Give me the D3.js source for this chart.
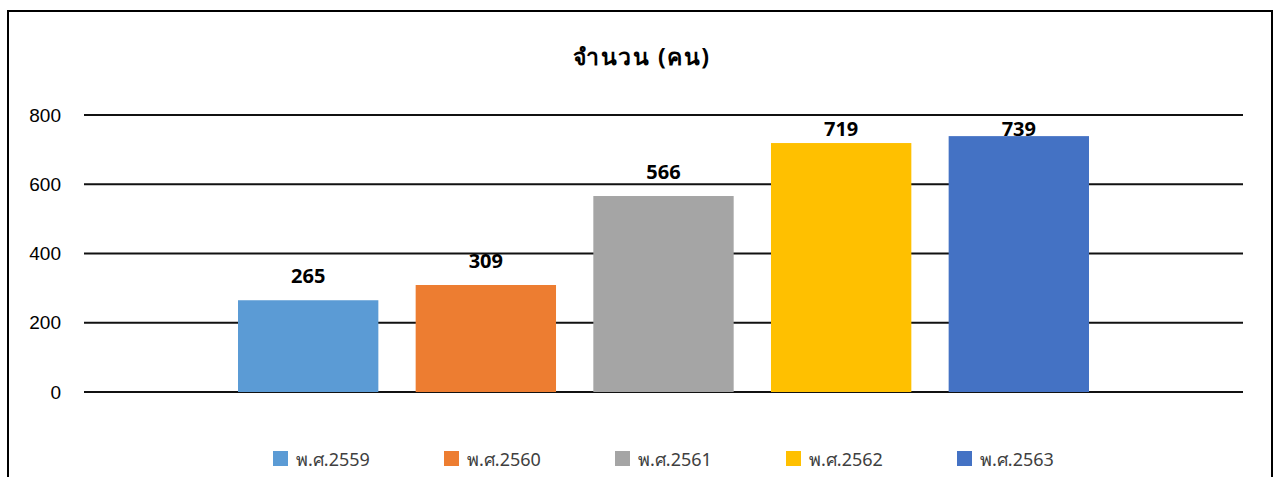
<!DOCTYPE html>
<html>
  <head>
    <meta charset="utf-8" />
    <title>จำนวน (คน)</title>
    <script src="https://d3js.org/d3.v7.min.js"></script>
    <style>
      body {
        margin: 0;
        background: #fff;
      }
      svg {
        font-family: "Noto Sans", sans-serif;
        display: block;
      }
      .grid line {
        stroke: #111;
        stroke-width: 2;
      }
      .axis text {
        font-size: 19px;
        fill: #000;
      }
    </style>
  </head>
  <body>
    <div id="chart"></div>
    <script>
      // data
      const years = ["พ.ศ.2559", "พ.ศ.2560", "พ.ศ.2561", "พ.ศ.2562", "พ.ศ.2563"];
      const counts = [265, 309, 566, 719, 739];
      const colors = ["#5B9BD5", "#ED7D31", "#A5A5A5", "#FFC000", "#4472C4"];
      const yTicks = [0, 200, 400, 600, 800];
      const title = "จำนวน (คน)";

      const width = 1278;
      const height = 477;
      const plot = { left: 84, right: 1243, top: 115, bottom: 392 };

      const svg = d3
        .select("#chart")
        .append("svg")
        .attr("width", width)
        .attr("height", height);

      // chart border (bottom edge runs off the page)
      svg
        .append("rect")
        .attr("x", 8)
        .attr("y", 11)
        .attr("width", 1264)
        .attr("height", 500)
        .attr("fill", "none")
        .attr("stroke", "#000")
        .attr("stroke-width", 2);

      // title
      svg
        .append("text")
        .attr("x", 642)
        .attr("y", 65)
        .attr("text-anchor", "middle")
        .attr("font-size", "23px")
        .attr("font-weight", "bold")
        .attr("letter-spacing", "1.5px")
        .attr("fill", "#000")
        .text(title);

      //scales
      const y = d3.scaleLinear().domain([0, 800]).range([plot.bottom, plot.top]);
      const x = d3
        .scaleBand()
        .domain(years)
        .range([238, 1089])
        .paddingInner(0.21)
        .paddingOuter(0);

      // gridlines
      svg
        .append("g")
        .attr("class", "grid")
        .selectAll("line")
        .data(yTicks)
        .join("line")
        .attr("x1", plot.left)
        .attr("x2", plot.right)
        .attr("y1", (d) => y(d))
        .attr("y2", (d) => y(d));

      // y axis labels
      const yAxis = d3.axisLeft(y).tickValues(yTicks).tickSize(0).tickPadding(0);
      svg
        .append("g")
        .attr("class", "axis")
        .attr("transform", "translate(61,0)")
        .call(yAxis)
        .call((g) => g.select(".domain").remove());

      // bars
      svg
        .selectAll(".bar")
        .data(years)
        .join("rect")
        .attr("class", "bar")
        .attr("x", (d) => x(d))
        .attr("width", x.bandwidth())
        .attr("y", (d, i) => y(counts[i]))
        .attr("height", (d, i) => y(0) - y(counts[i]))
        .attr("fill", (d, i) => colors[i]);

      // value labels, kept inside the plot area near the top
      svg
        .selectAll(".label")
        .data(years)
        .join("text")
        .attr("class", "label")
        .attr("x", (d) => x(d) + x.bandwidth() / 2)
        .attr("y", (d, i) => Math.max(y(counts[i]) - 17, plot.top + 21))
        .attr("text-anchor", "middle")
        .attr("font-size", "20px")
        .attr("font-weight", "bold")
        .attr("fill", "#000")
        .text((d, i) => counts[i]);

      // legend
      const legendX = d3.scalePoint().domain(years).range([273, 957]);
      const legend = svg
        .selectAll(".legend")
        .data(years)
        .join("g")
        .attr("class", "legend")
        .attr("transform", (d) => `translate(${legendX(d)},451)`);

      legend
        .append("rect")
        .attr("width", 15)
        .attr("height", 15)
        .attr("fill", (d, i) => colors[i]);

      legend
        .append("text")
        .attr("x", 23)
        .attr("y", 15)
        .attr("font-size", "18px")
        .attr("fill", "#404040")
        .text((d) => d);
    </script>
  </body>
</html>
